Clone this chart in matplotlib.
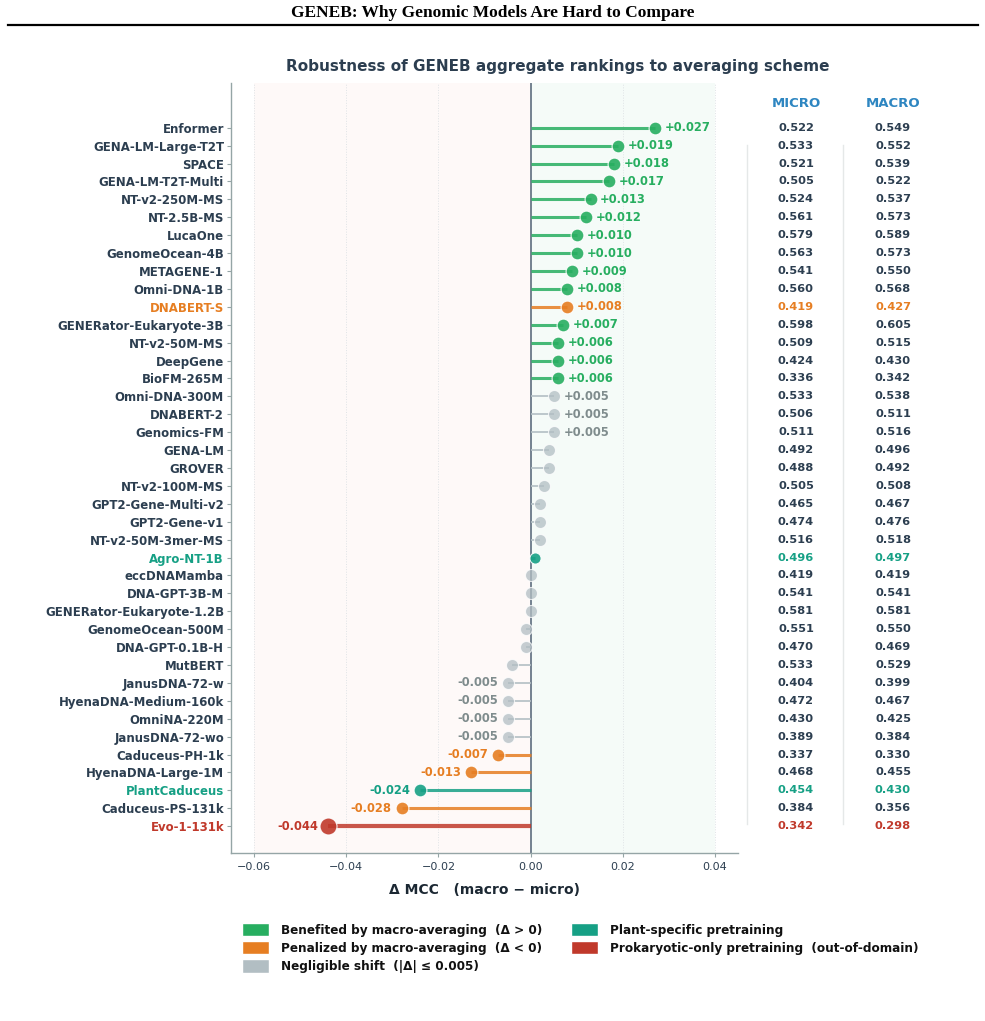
import numpy as np
import matplotlib
matplotlib.use("Agg")
import matplotlib.pyplot as plt
from matplotlib.patches import Patch
from matplotlib.lines import Line2D
import matplotlib.transforms as mtransforms

plt.rcParams['font.family'] = ['DejaVu Sans']

models = ["Enformer", "GENA-LM-Large-T2T", "SPACE", "GENA-LM-T2T-Multi", "NT-v2-250M-MS",
          "NT-2.5B-MS", "LucaOne", "GenomeOcean-4B", "METAGENE-1", "Omni-DNA-1B",
          "DNABERT-S", "GENERator-Eukaryote-3B", "NT-v2-50M-MS", "DeepGene", "BioFM-265M",
          "Omni-DNA-300M", "DNABERT-2", "Genomics-FM", "GENA-LM", "GROVER",
          "NT-v2-100M-MS", "GPT2-Gene-Multi-v2", "GPT2-Gene-v1", "NT-v2-50M-3mer-MS", "Agro-NT-1B",
          "eccDNAMamba", "DNA-GPT-3B-M", "GENERator-Eukaryote-1.2B", "GenomeOcean-500M", "DNA-GPT-0.1B-H",
          "MutBERT", "JanusDNA-72-w", "HyenaDNA-Medium-160k", "OmniNA-220M", "JanusDNA-72-wo",
          "Caduceus-PH-1k", "HyenaDNA-Large-1M", "PlantCaduceus", "Caduceus-PS-131k", "Evo-1-131k"]

micro = [0.522, 0.533, 0.521, 0.505, 0.524, 0.561, 0.579, 0.563, 0.541, 0.560,
         0.419, 0.598, 0.509, 0.424, 0.336, 0.533, 0.506, 0.511, 0.492, 0.488,
         0.505, 0.465, 0.474, 0.516, 0.496, 0.419, 0.541, 0.581, 0.551, 0.470,
         0.533, 0.404, 0.472, 0.430, 0.389, 0.337, 0.468, 0.454, 0.384, 0.342]

macro = [0.549, 0.552, 0.539, 0.522, 0.537, 0.573, 0.589, 0.573, 0.550, 0.568,
         0.427, 0.605, 0.515, 0.430, 0.342, 0.538, 0.511, 0.516, 0.496, 0.492,
         0.508, 0.467, 0.476, 0.518, 0.497, 0.419, 0.541, 0.581, 0.550, 0.469,
         0.529, 0.399, 0.467, 0.425, 0.384, 0.330, 0.455, 0.430, 0.356, 0.298]

# special highlight groups
special = {"DNABERT-S": "pen", "Agro-NT-1B": "plant", "PlantCaduceus": "plant", "Evo-1-131k": "prok"}

C_GREEN = "#27ae60"
C_ORANGE = "#e67e22"
C_GRAY = "#b2bec3"
C_TEAL = "#16a085"
C_RED = "#c0392b"
C_TEXT = "#2c3e50"
C_GRAYTXT = "#7f8c8d"
C_BLUE = "#2e86c1"

delta = np.round(np.array(macro) - np.array(micro), 3)
n = len(models)
ypos = np.arange(n)

fig = plt.figure(figsize=(9.85, 10.21), dpi=100)
ax = fig.add_axes([231/985, 1-853/1021, 507/985, 770/1021])

ax.set_xlim(-0.065, 0.045)
ax.set_ylim(n - 1 + 1.5, -2.5)

ax.axvspan(-0.06, 0.0, color="#e74c3c", alpha=0.03, lw=0, zorder=0)
ax.axvspan(0.0, 0.04, color=C_GREEN, alpha=0.045, lw=0, zorder=0)
for gx in [-0.06, -0.04, -0.02, 0.02, 0.04]:
    ax.axvline(gx, color="#dfe3e6", lw=0.7, ls=":", zorder=0.5)
ax.axvline(0, color="#5d6d7e", lw=1.2, zorder=2)

label_colors = []
for i, (m, d) in enumerate(zip(models, delta)):
    grp = special.get(m)
    if grp == "plant":
        col, tcol = C_TEAL, C_TEAL
    elif grp == "prok":
        col, tcol = C_RED, C_RED
    elif grp == "pen":
        col, tcol = C_ORANGE, C_ORANGE
    elif abs(d) <= 0.005:
        col, tcol = C_GRAY, C_GRAYTXT
    elif d > 0:
        col, tcol = C_GREEN, C_GREEN
    else:
        col, tcol = C_ORANGE, C_ORANGE
    is_gray = (col == C_GRAY)
    lw = 3.0 if grp == "prok" else (1.4 if is_gray else 2.2)
    ax.plot([0, d], [i, i], color=col, lw=lw, alpha=0.85, zorder=3, solid_capstyle="butt")
    s = 150 if grp == "prok" else (75 if is_gray else 85)
    if grp == "plant" and abs(d) < 0.005:
        s = 65
    ax.scatter([d], [i], s=s, color=col, alpha=0.75 if is_gray else 0.9,
               edgecolor="white", linewidth=0.8, zorder=4)
    if abs(d) >= 0.005:
        txt = f"{d:+.3f}"
        if d > 0:
            ax.annotate(txt, (d, i), xytext=(7, 0), textcoords="offset points",
                        ha="left", va="center", fontsize=8.3, fontweight="bold", color=tcol, zorder=5)
        else:
            ax.annotate(txt, (d, i), xytext=(-7, 0), textcoords="offset points",
                        ha="right", va="center", fontsize=8.3, fontweight="bold", color=tcol, zorder=5)
    label_colors.append(tcol if grp else C_TEXT)

ax.set_yticks(ypos)
ax.set_yticklabels(models, fontsize=8.5, fontweight="bold")
for tl, c in zip(ax.get_yticklabels(), label_colors):
    tl.set_color(c)
ax.tick_params(axis="y", length=3, color="#95a5a6", pad=2)
ax.tick_params(axis="x", labelsize=8, colors=C_TEXT, length=3)
ax.tick_params(axis="x", color="#95a5a6")
ax.set_xticks([-0.06, -0.04, -0.02, 0.0, 0.02, 0.04])

for sp in ["top", "right"]:
    ax.spines[sp].set_visible(False)
for sp in ["left", "bottom"]:
    ax.spines[sp].set_color("#95a5a6")
    ax.spines[sp].set_linewidth(1.0)

ax.set_xlabel("Δ MCC   (macro − micro)", fontsize=10, fontweight="bold", color="#1c2833", labelpad=8)

# table
trans = mtransforms.blended_transform_factory(ax.transAxes, ax.transData)
x_mi, x_ma = (796-231)/507, (893-231)/507
ax.text(x_mi, -1.35, "MICRO", transform=trans, ha="center", va="center", fontsize=9.5,
        fontweight="bold", color=C_BLUE, clip_on=False)
ax.text(x_ma, -1.35, "MACRO", transform=trans, ha="center", va="center", fontsize=9.5,
        fontweight="bold", color=C_BLUE, clip_on=False)
for i, (m, a, b) in enumerate(zip(models, micro, macro)):
    c = label_colors[i]
    ax.text(x_mi, i, f"{a:.3f}", transform=trans, ha="center", va="center", fontsize=8.2,
            fontweight="bold", color=c, clip_on=False)
    ax.text(x_ma, i, f"{b:.3f}", transform=trans, ha="center", va="center", fontsize=8.2,
            fontweight="bold", color=c, clip_on=False)
for xs in [(747-231)/507, (843-231)/507]:
    ax.plot([xs, xs], [0.95, 38.9], transform=trans, color="#e5e8e8", lw=1.0, clip_on=False)

fig.text(558/985, 1-66/1021, "Robustness of GENEB aggregate rankings to averaging scheme",
         ha="center", va="center", fontsize=11, fontweight="bold", color=C_TEXT)

# page header
fig.text(0.5, 1-13/1021, "GENEB: Why Genomic Models Are Hard to Compare", ha="center", va="center",
         fontsize=12.5, fontweight="bold", family=["Liberation Serif", "DejaVu Serif"])
fig.add_artist(Line2D([8/985, 978/985], [1-25/1021, 1-25/1021], color="black", lw=1.6))

handles = [Patch(facecolor=C_GREEN, edgecolor="white", label="Benefited by macro-averaging  (Δ > 0)"),
           Patch(facecolor=C_ORANGE, edgecolor="white", label="Penalized by macro-averaging  (Δ < 0)"),
           Patch(facecolor=C_GRAY, edgecolor="white", label="Negligible shift  (|Δ| ≤ 0.005)"),
           Patch(facecolor=C_TEAL, edgecolor="white", label="Plant-specific pretraining"),
           Patch(facecolor=C_RED, edgecolor="white", label="Prokaryotic-only pretraining  (out-of-domain)")]
fig.legend(handles=handles, ncol=2, loc="upper left", bbox_to_anchor=(230/985, 1-911/1021),
           frameon=False, prop={"size": 9.6, "weight": "bold", "stretch": "condensed"},
           handlelength=2.0, handleheight=1.15, handletextpad=0.9, columnspacing=2.2,
           labelspacing=0.3, labelcolor="#111111")

fig.savefig("out.png", dpi=100)
